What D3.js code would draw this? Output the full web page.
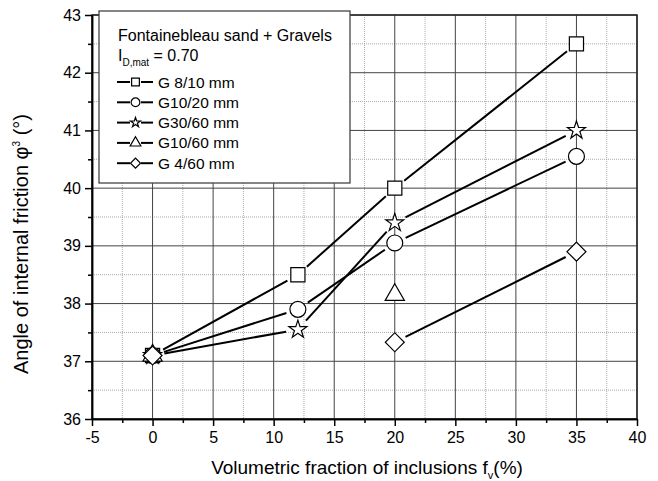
<!DOCTYPE html>
<html>
<head>
<meta charset="utf-8">
<script src="https://cdn.jsdelivr.net/npm/d3@7"></script>
<style>
    body { margin: 0; background: #fff; }
    svg { font-family: Arial, "Liberation Sans", sans-serif; }
    .grid-major line { stroke: #444; stroke-width: 1; }
    .grid-minor line { stroke: #aaa; stroke-width: 1; stroke-dasharray: 1,1; }
    .axis path, .axis line { stroke: #000; stroke-width: 1.5; }
    .axis text { font-size: 16px; fill: #000; }
    .seg { stroke: #000; stroke-width: 2; }
    .marker { fill: #fff; stroke: #000; stroke-width: 1.2; }
</style>
</head>
<body>
<div id="chart"></div>
<script>
// volumetric fraction of inclusions (%)
var fv = [0, 12, 20, 35];

var names = ["G 8/10 mm", "G10/20 mm", "G30/60 mm", "G10/60 mm", "G 4/60 mm"];
var g8_10  = [37.1, 38.5, 40.0, 42.5];
var g10_20 = [37.1, 37.9, 39.05, 40.55];
var g30_60 = [37.1, 37.55, 39.4, 41.0];
var g10_60 = [37.1, null, 38.15, null];
var g4_60  = [37.1, null, 37.33, 38.9];

var xTicks = [-5, 0, 5, 10, 15, 20, 25, 30, 35, 40];
var xMinor = [-2.5, 2.5, 7.5, 12.5, 17.5, 22.5, 27.5, 32.5, 37.5];
var yTicks = [36, 37, 38, 39, 40, 41, 42, 43];
var yMinor = [36.5, 37.5, 38.5, 39.5, 40.5, 41.5, 42.5];

function init() {
    var w = 658;
    var h = 481;
    var left = 92, right = 637, top = 15, bottom = 419;

    var xScale = d3.scaleLinear().domain([-5, 40]).range([left, right]);
    var yScale = d3.scaleLinear().domain([36, 43]).range([bottom, top]);

    var svg = d3.select("#chart")
        .append("svg")
        .attr("width", w)
        .attr("height", h);

    // minor grid (dotted)
    var gMinor = svg.append("g").attr("class", "grid-minor");
    gMinor.selectAll(".vx").data(xMinor).enter().append("line")
        .attr("x1", xScale).attr("x2", xScale)
        .attr("y1", top).attr("y2", bottom);
    gMinor.selectAll(".hy").data(yMinor).enter().append("line")
        .attr("y1", yScale).attr("y2", yScale)
        .attr("x1", left).attr("x2", right);

    // major grid
    var gMajor = svg.append("g").attr("class", "grid-major");
    gMajor.selectAll(".vx").data(xTicks).enter().append("line")
        .attr("x1", xScale).attr("x2", xScale)
        .attr("y1", top).attr("y2", bottom);
    gMajor.selectAll(".hy").data(yTicks).enter().append("line")
        .attr("y1", yScale).attr("y2", yScale)
        .attr("x1", left).attr("x2", right);

    // frame
    svg.append("rect")
        .attr("x", left).attr("y", top)
        .attr("width", right - left).attr("height", bottom - top)
        .attr("fill", "none").attr("stroke", "#222").attr("stroke-width", 1.5);

    var plain = function(d) { return String(d); };

    // axes: major ticks with labels, minor ticks without
    svg.append("g").attr("class", "axis")
        .attr("transform", "translate(0," + bottom + ")")
        .call(d3.axisBottom(xScale).tickValues(xMinor).tickSize(4).tickSizeOuter(0).tickFormat(""));
    svg.append("g").attr("class", "axis")
        .attr("transform", "translate(0," + bottom + ")")
        .call(d3.axisBottom(xScale).tickValues(xTicks).tickSize(7).tickSizeOuter(0).tickPadding(6)
            .tickFormat(plain));

    svg.append("g").attr("class", "axis")
        .attr("transform", "translate(" + left + ",0)")
        .call(d3.axisLeft(yScale).tickValues(yMinor).tickSize(4).tickSizeOuter(0).tickFormat(""));
    svg.append("g").attr("class", "axis")
        .attr("transform", "translate(" + left + ",0)")
        .call(d3.axisLeft(yScale).tickValues(yTicks).tickSize(7).tickSizeOuter(0).tickPadding(4)
            .tickFormat(plain));

    // marker shapes
    var shapes = [
        { type: d3.symbolSquare, size: 200, rot: 0 },
        { type: d3.symbolCircle, size: 200, rot: 0 },
        { type: d3.symbolStar, size: 100, rot: 0 },
        { type: d3.symbolTriangle, size: 160, rot: 0 },
        { type: d3.symbolSquare, size: 180, rot: 45 }
    ];
    var allSeries = [g8_10, g10_20, g30_60, g10_60, g4_60];

    var gap = 12;
    allSeries.forEach(function(vals, si) {
        var pts = fv.map(function(x, i) { return { x: x, y: vals[i] }; });

        // line segments between consecutive defined points, trimmed near markers
        var segs = [];
        for (var i = 0; i < pts.length - 1; i++) {
            if (pts[i].y == null || pts[i + 1].y == null) continue;
            var x1 = xScale(pts[i].x), y1 = yScale(pts[i].y);
            var x2 = xScale(pts[i + 1].x), y2 = yScale(pts[i + 1].y);
            var len = Math.sqrt((x2 - x1) * (x2 - x1) + (y2 - y1) * (y2 - y1));
            var ux = (x2 - x1) / len, uy = (y2 - y1) / len;
            segs.push([x1 + ux * gap, y1 + uy * gap, x2 - ux * gap, y2 - uy * gap]);
        }
        svg.append("g").selectAll("line").data(segs).enter().append("line")
            .attr("class", "seg")
            .attr("x1", function(d) { return d[0]; })
            .attr("y1", function(d) { return d[1]; })
            .attr("x2", function(d) { return d[2]; })
            .attr("y2", function(d) { return d[3]; });

        var sh = shapes[si];
        svg.append("g").selectAll("path")
            .data(pts.filter(function(d) { return d.y != null; }))
            .enter().append("path")
            .attr("class", "marker")
            .attr("d", d3.symbol().type(sh.type).size(sh.size))
            .attr("transform", function(d) {
                return "translate(" + xScale(d.x) + "," + yScale(d.y) + ") rotate(" + sh.rot + ")";
            });
    });

    // legend
    var lg = svg.append("g").attr("transform", "translate(99,11)");
    lg.append("rect")
        .attr("width", 251).attr("height", 172)
        .attr("fill", "#fff").attr("stroke", "#444").attr("stroke-width", 1.3);
    lg.append("text").attr("x", 19).attr("y", 30)
        .attr("font-size", "16px")
        .text("Fontainebleau sand + Gravels");
    var idt = lg.append("text").attr("x", 19).attr("y", 50).attr("font-size", "16px");
    idt.append("tspan").text("I");
    idt.append("tspan").attr("font-size", "10px").attr("dy", 5).text("D,mat");
    idt.append("tspan").attr("dy", -5).text(" = 0.70");

    var legendShapes = [
        { type: d3.symbolSquare, size: 60, rot: 0 },
        { type: d3.symbolCircle, size: 60, rot: 0 },
        { type: d3.symbolStar, size: 30, rot: 0 },
        { type: d3.symbolTriangle, size: 50, rot: 0 },
        { type: d3.symbolSquare, size: 50, rot: 45 }
    ];
    names.forEach(function(name, i) {
        var yy = 71 + i * 20.3;
        var row = lg.append("g").attr("transform", "translate(0," + yy + ")");
        row.append("line").attr("class", "seg").attr("x1", 18).attr("x2", 31).attr("y1", 0).attr("y2", 0);
        row.append("line").attr("class", "seg").attr("x1", 42).attr("x2", 54).attr("y1", 0).attr("y2", 0);
        var s = legendShapes[i];
        row.append("path").attr("class", "marker")
            .attr("stroke-width", 1)
            .attr("d", d3.symbol().type(s.type).size(s.size))
            .attr("transform", "translate(36.5,0) rotate(" + s.rot + ")");
        row.append("text").attr("x", 59).attr("y", 5.5)
            .attr("font-size", "15.5px")
            .text(name);
    });

    // axis titles
    var xt = svg.append("text")
        .attr("x", 367).attr("y", 474)
        .attr("text-anchor", "middle").attr("font-size", "19px");
    xt.append("tspan").text("Volumetric fraction of inclusions f");
    xt.append("tspan").attr("font-size", "11px").attr("dy", 5).text("v");
    xt.append("tspan").attr("dy", -5).text("(%)");

    var yt = svg.append("text")
        .attr("transform", "translate(28,244) rotate(-90)")
        .attr("text-anchor", "middle").attr("font-size", "20px");
    yt.append("tspan").text("Angle of internal friction \u03c6");
    yt.append("tspan").attr("font-size", "10px").attr("dy", -8).text("3");
    yt.append("tspan").attr("dy", 8).text(" (\u00b0)");
}

window.onload = init;
</script>
</body>
</html>
